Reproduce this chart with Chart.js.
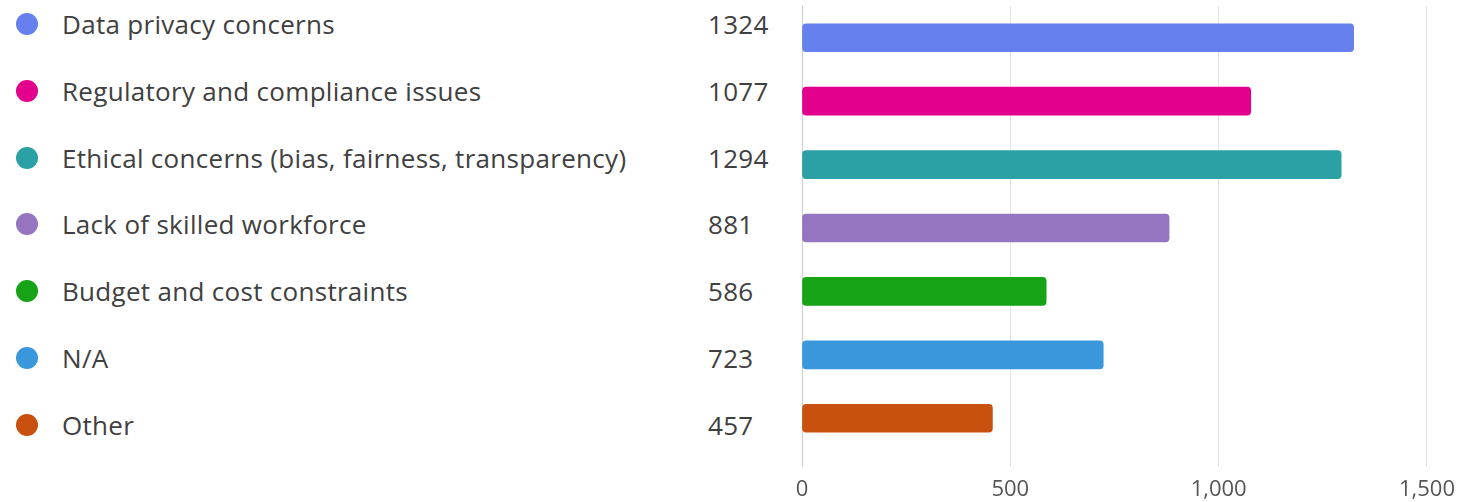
<!DOCTYPE html>
<html>
<head>
<meta charset="utf-8">
<script src="https://cdn.jsdelivr.net/npm/chart.js@4.4.1/dist/chart.umd.min.js"></script>
<style>
  html, body { margin: 0; padding: 0; background: #fff; }
  #wrap { position: relative; width: 1465px; height: 502px; overflow: hidden; font-family: "Open Sans", "Noto Sans", sans-serif; }
  #list { position: absolute; left: 0; top: -9.4px; width: 790px; }
  .row { position: relative; height: 66.8px; display: flex; align-items: center; }
  .dot { position: absolute; left: 16px; width: 22px; height: 22px; border-radius: 50%; }
  .lab { position: absolute; left: 62px; font-size: 26px; letter-spacing: 0.3px; color: #404040; white-space: nowrap; }
  .val { position: absolute; left: 708px; font-size: 26px; letter-spacing: 0.3px; color: #404040; }
  #cv { position: absolute; left: 780px; top: 0; }
</style>
</head>
<body>
<div id="wrap">
  <div id="list"></div>
  <canvas id="cv" width="685" height="502"></canvas>
</div>
<script>
const categories = [
  "Data privacy concerns",
  "Regulatory and compliance issues",
  "Ethical concerns (bias, fairness, transparency)",
  "Lack of skilled workforce",
  "Budget and cost constraints",
  "N/A",
  "Other"
];
const values = [1324, 1077, 1294, 881, 586, 723, 457];
const colors = ["#6680EE", "#E2008C", "#2BA0A5", "#9575BF", "#16A316", "#3A97DC", "#C8510F"];
const tickValues = [0, 500, 1000, 1500];

const list = document.getElementById('list');
categories.forEach((c, i) => {
  const r = document.createElement('div');
  r.className = 'row';
  r.innerHTML = '<span class="dot" style="background:' + colors[i] + '"></span>' +
    '<span class="lab">' + c + '</span><span class="val">' + values[i] + '</span>';
  list.appendChild(r);
});

new Chart(document.getElementById('cv'), {
  type: 'bar',
  data: {
    labels: categories,
    datasets: [{
      data: values,
      backgroundColor: colors,
      borderRadius: 4,
      borderSkipped: false,
      barThickness: 28
    }]
  },
  options: {
    indexAxis: 'y',
    responsive: false,
    animation: false,
    layout: { padding: { left: 22, right: 38, top: 6, bottom: 0 } },
    plugins: { legend: { display: false }, tooltip: { enabled: false } },
    scales: {
      y: { display: false },
      x: {
        min: 0, max: 1500,
        afterBuildTicks: s => { s.ticks = tickValues.map(v => ({ value: v })); },
        afterFit: s => { s.height = 52; },
        grid: {
          color: c => c.tick && c.tick.value === 0 ? '#cfcfcf' : '#e3e3e3',
          tickLength: 17,
          tickColor: c => c.tick && c.tick.value === 0 ? '#cfcfcf' : '#e3e3e3',
          lineWidth: 1
        },
        border: { display: false },
        ticks: {
          padding: 10,
          color: '#555',
          font: { family: '"Open Sans", "Noto Sans", sans-serif', size: 22 },
          callback: v => v.toLocaleString('en-US'),
          maxRotation: 0
        }
      }
    }
  }
});
</script>
</body>
</html>
